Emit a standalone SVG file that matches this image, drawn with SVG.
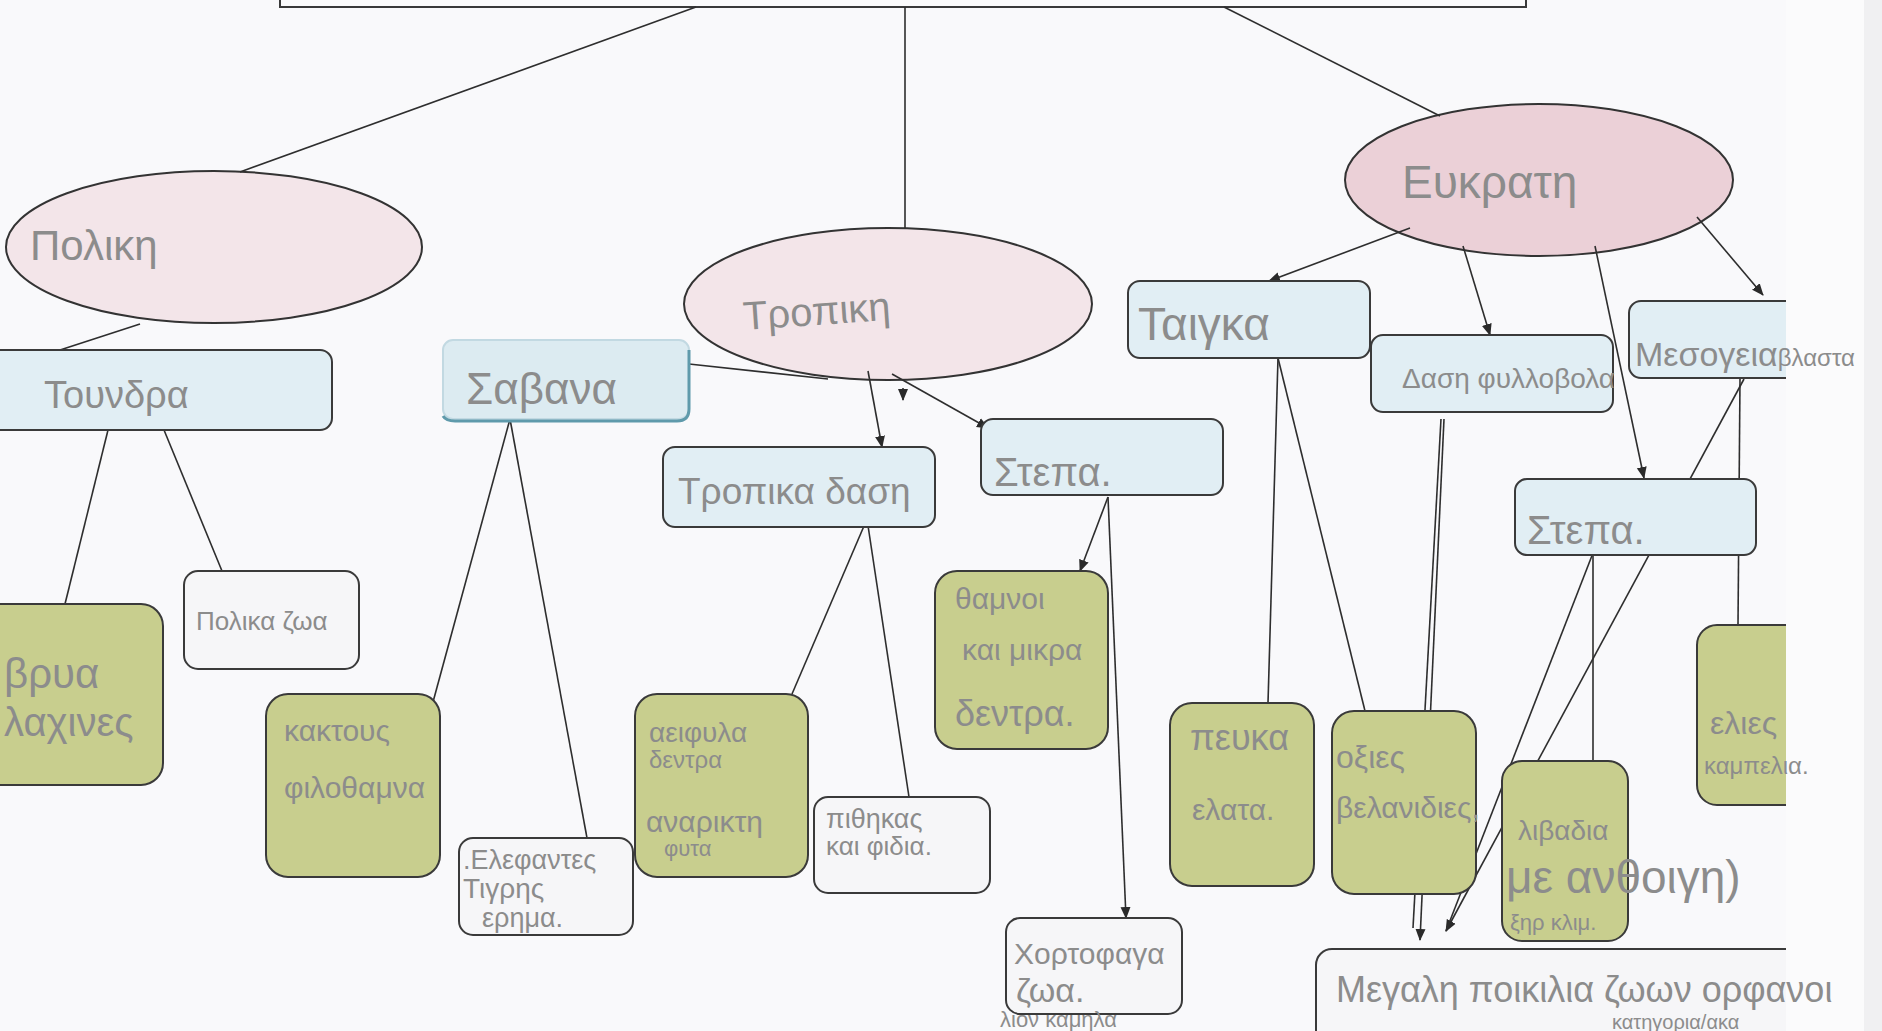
<svg xmlns="http://www.w3.org/2000/svg" width="1882" height="1031" viewBox="0 0 1882 1031">
<defs>
<marker id="ah" viewBox="0 0 12 12" refX="11" refY="6" markerWidth="12" markerHeight="12" markerUnits="userSpaceOnUse" orient="auto">
<path d="M0,1 L12,6 L0,11 Z" fill="#2a2a2a"/>
</marker>
<style>
.bg{fill:#f9f9fb}
.ell{fill:#f3e5e9;stroke:#333;stroke-width:2}
.ell2{fill:#ebd0d7;stroke:#333;stroke-width:2}
.blue{fill:#e1eef4;stroke:#3a3a3a;stroke-width:2}
.green{fill:#c8ce8e;stroke:#3a3a3a;stroke-width:2}
.white{fill:#f6f6f8;stroke:#3a3a3a;stroke-width:2}
.ln{stroke:#2e2e2e;stroke-width:1.6;fill:none}
.ar{stroke:#2e2e2e;stroke-width:1.6;fill:none;marker-end:url(#ah)}
.t{font-family:"Liberation Sans","DejaVu Sans",sans-serif;fill:#8c8c8c}
</style>
</defs>
<rect class="bg" x="0" y="0" width="1882" height="1031"/>

<g id="top">
<rect x="280" y="-30" width="1246" height="37" fill="#fbfbfc" stroke="#3a3a3a" stroke-width="2"/>
</g>

<g id="polar">
<ellipse class="ell" cx="214" cy="247" rx="208" ry="76"/>
<text class="t" x="30" y="260" font-size="42">Πολικη</text>
</g>
<g id="tropical">
<ellipse class="ell" cx="888" cy="304" rx="204" ry="76"/>
<text class="t" x="744" y="330" font-size="40" transform="rotate(-4 744 330)">Τροπικη</text>
</g>
<g id="temperate">
<ellipse class="ell2" cx="1539" cy="180" rx="194" ry="76"/>
<text class="t" x="1402" y="198" font-size="46">Ευκρατη</text>
</g>

<g id="connectors">
<line class="ln" x1="696" y1="7" x2="240" y2="172"/>
<line class="ln" x1="905" y1="7" x2="905" y2="228"/>
<line class="ln" x1="1224" y1="7" x2="1440" y2="116"/>
<line class="ln" x1="140" y1="324" x2="60" y2="350"/>
<line class="ln" x1="108" y1="430" x2="65" y2="604"/>
<line class="ln" x1="164" y1="430" x2="222" y2="571"/>
<line class="ln" x1="689" y1="364" x2="828" y2="379"/>
<line class="ln" x1="510" y1="419" x2="433" y2="702"/>
<line class="ln" x1="510" y1="419" x2="587" y2="838"/>
<line class="ar" x1="868" y1="371" x2="882" y2="447"/>
<line class="ar" x1="903" y1="388" x2="903" y2="400"/>
<line class="ar" x1="892" y1="374" x2="988" y2="428"/>
<line class="ln" x1="867" y1="519" x2="792" y2="694"/>
<line class="ln" x1="867" y1="519" x2="909" y2="797"/>
<line class="ar" x1="1108" y1="497" x2="1080" y2="571"/>
<line class="ar" x1="1108" y1="497" x2="1126" y2="918"/>
<line class="ar" x1="1410" y1="228" x2="1269" y2="281"/>
<line class="ar" x1="1463" y1="246" x2="1490" y2="335"/>
<line class="ar" x1="1595" y1="246" x2="1644" y2="478"/>
<line class="ar" x1="1697" y1="217" x2="1763" y2="295"/>
<line class="ln" x1="1278" y1="358" x2="1268" y2="703"/>
<line class="ln" x1="1278" y1="358" x2="1365" y2="711"/>
<line class="ar" x1="1444" y1="419" x2="1420" y2="940"/>
<line class="ln" x1="1441" y1="419" x2="1413" y2="928"/>
<line class="ln" x1="1740" y1="379" x2="1738" y2="625"/>
<line class="ar" x1="1744" y1="379" x2="1446" y2="931"/>
<line class="ln" x1="1593" y1="553" x2="1446" y2="931"/>
<line class="ln" x1="1593" y1="553" x2="1593" y2="761"/>
</g>

<g id="tundra">
<rect class="blue" x="-12" y="350" width="344" height="80" rx="12"/>
<text class="t" x="44" y="408" font-size="38">Τουνδρα</text>
</g>
<g id="moss">
<rect class="green" x="-30" y="604" width="193" height="181" rx="22"/>
<text class="t" x="4" y="688" font-size="42">βρυα</text>
<text class="t" x="4" y="736" font-size="40">λαχινες</text>
</g>
<g id="polar-animals">
<rect class="white" x="184" y="571" width="175" height="98" rx="14"/>
<text class="t" x="196" y="630" font-size="26">Πολικα ζωα</text>
</g>
<g id="savanna">
<rect x="443" y="340" width="246" height="79" rx="10" fill="#dcebf1" stroke="#c2d9e2" stroke-width="2"/>
<path d="M443,416 Q446,421 455,421 L677,421 Q689,421 689,409 L689,350" fill="none" stroke="#5f9aab" stroke-width="3"/>
<text class="t" x="466" y="404" font-size="44">Σαβανα</text>
</g>
<g id="cactus">
<rect class="green" x="266" y="694" width="174" height="183" rx="22"/>
<text class="t" x="284" y="741" font-size="30">κακτους</text>
<text class="t" x="284" y="798" font-size="30">φιλοθαμνα</text>
</g>
<g id="savanna-animals">
<rect class="white" x="459" y="838" width="174" height="97" rx="14"/>
<text class="t" x="463" y="869" font-size="27">.Ελεφαντες</text>
<text class="t" x="463" y="898" font-size="28">Τιγρης</text>
<text class="t" x="482" y="927" font-size="27">ερημα.</text>
</g>
<g id="rainforest">
<rect class="blue" x="663" y="447" width="272" height="80" rx="12"/>
<text class="t" x="678" y="504" font-size="37">Τροπικα δαση</text>
</g>
<g id="evergreen">
<rect class="green" x="635" y="694" width="173" height="183" rx="22"/>
<text class="t" x="649" y="742" font-size="28">αειφυλα</text>
<text class="t" x="649" y="768" font-size="24">δεντρα</text>
<text class="t" x="646" y="832" font-size="30">αναρικτη</text>
<text class="t" x="664" y="856" font-size="22">φυτα</text>
</g>
<g id="monkeys">
<rect class="white" x="814" y="797" width="176" height="96" rx="14"/>
<text class="t" x="826" y="828" font-size="27">πιθηκας</text>
<text class="t" x="826" y="855" font-size="26">και φιδια.</text>
</g>
<g id="tropical-steppe">
<rect class="blue" x="981" y="419" width="242" height="76" rx="12"/>
<text class="t" x="994" y="486" font-size="40">Στεπα.</text>
</g>
<g id="shrubs">
<rect class="green" x="935" y="571" width="173" height="178" rx="22"/>
<text class="t" x="955" y="609" font-size="30">θαμνοι</text>
<text class="t" x="962" y="660" font-size="30">και μικρα</text>
<text class="t" x="955" y="726" font-size="36">δεντρα.</text>
</g>
<g id="herbivores">
<rect class="white" x="1006" y="918" width="176" height="96" rx="14"/>
<text class="t" x="1014" y="964" font-size="30">Χορτοφαγα</text>
<text class="t" x="1016" y="1002" font-size="34">ζωα.</text>
<text class="t" x="1000" y="1027" font-size="22">λιον  καμηλα</text>
</g>
<g id="taiga">
<rect class="blue" x="1128" y="281" width="242" height="77" rx="12"/>
<text class="t" x="1138" y="340" font-size="46">Ταιγκα</text>
</g>
<g id="deciduous">
<rect class="blue" x="1371" y="335" width="242" height="77" rx="12"/>
<text class="t" x="1402" y="388" font-size="28">Δαση φυλλοβολα</text>
</g>
<g id="temperate-steppe">
<rect class="blue" x="1515" y="479" width="241" height="76" rx="12"/>
<text class="t" x="1527" y="544" font-size="40">Στεπα.</text>
</g>
<g id="pine">
<rect class="green" x="1170" y="703" width="144" height="183" rx="22"/>
<text class="t" x="1190" y="750" font-size="36">πευκα</text>
<text class="t" x="1192" y="820" font-size="30">ελατα.</text>
</g>
<g id="oak">
<rect class="green" x="1332" y="711" width="144" height="183" rx="22"/>
<text class="t" x="1336" y="768" font-size="32">οξιες</text>
<text class="t" x="1336" y="818" font-size="30">βελανιδιες,</text>
</g>
<g id="meadow">
<rect class="green" x="1502" y="761" width="126" height="180" rx="20"/>
</g>
<g id="mediterranean">
<rect class="blue" x="1629" y="301" width="180" height="77" rx="12"/>
</g>
<g id="olives">
<rect class="green" x="1697" y="625" width="112" height="180" rx="20"/>
</g>
<g id="variety">
<rect class="white" x="1316" y="949" width="493" height="110" rx="16"/>
</g>
<rect x="1786" y="0" width="96" height="1031" fill="#fbfbfc"/>
<rect x="1864" y="0" width="18" height="1031" fill="#f0f0f2"/>
<g id="overflow-text">
<text class="t" x="1518" y="840" font-size="28">λιβαδια</text>
<text class="t" x="1506" y="893" font-size="46">με ανθοιγη)</text>
<text class="t" x="1510" y="930" font-size="22">ξηρ κλιμ.</text>
<text class="t" x="1635" y="366" font-size="34">Μεσογεια<tspan font-size="24">βλαστα</tspan></text>
<text class="t" x="1710" y="734" font-size="32">ελιες</text>
<text class="t" x="1704" y="774" font-size="24">καμπελια.</text>
<text class="t" x="1336" y="1002" font-size="36">Μεγαλη  ποικιλια  ζωων  ορφανοι</text>
<text class="t" x="1612" y="1029" font-size="20">κατηγορια/ακα</text>
</g>
</svg>
